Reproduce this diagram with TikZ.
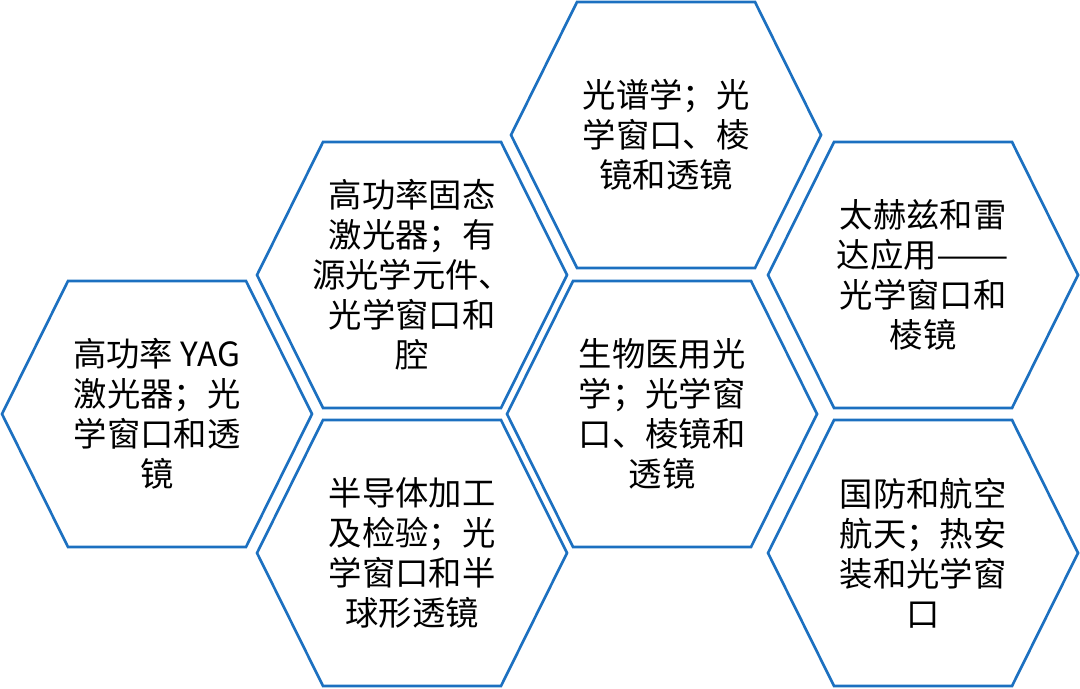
\documentclass[tikz,border=0pt]{standalone}
\usepackage{fontspec}
\usepackage{tikz}
\newfontfamily\cjk{Noto Sans CJK SC}
\definecolor{hexblue}{RGB}{28,112,192}

\begin{document}
\begin{tikzpicture}[x=0.75pt, y=0.75pt,
    hexline/.style={draw=hexblue, line width=2pt, line join=miter},
    hextext/.style={align=center, font=\cjk\fontsize{25}{30}\selectfont, inner sep=0pt}]
    \useasboundingbox (0, 0) rectangle (1080, 688);
    \foreach \cx/\cy in {157/274, 412/413, 412/135, 666/553, 662/274, 923/413, 923/135}
      \draw [hexline] (\cx-155, \cy) -- (\cx-89, \cy+133) -- (\cx+89, \cy+133)
        -- (\cx+155, \cy) -- (\cx+89, \cy-133) -- (\cx-89, \cy-133) -- cycle;
    \node [hextext] (yag) at (157, 274) {高功率 YAG\\激光器；光\\学窗口和透\\镜};
    \node [hextext] (solid) at (412, 413) {高功率固态\\激光器；有\\源光学元件、\\光学窗口和\\腔};
    \node [hextext] (semi) at (412, 135) {半导体加工\\及检验；光\\学窗口和半\\球形透镜};
    \node [hextext] (spec) at (666, 553) {光谱学；光\\学窗口、棱\\镜和透镜};
    \node [hextext] (bio) at (662, 274) {生物医用光\\学；光学窗\\口、棱镜和\\透镜};
    \node [hextext] (thz) at (923, 413) {太赫兹和雷\\达应用\scalebox{1.3}[1]{——}\\光学窗口和\\棱镜};
    \node [hextext] (def) at (923, 135) {国防和航空\\航天；热安\\装和光学窗\\口};
  \end{tikzpicture}
\end{document}
